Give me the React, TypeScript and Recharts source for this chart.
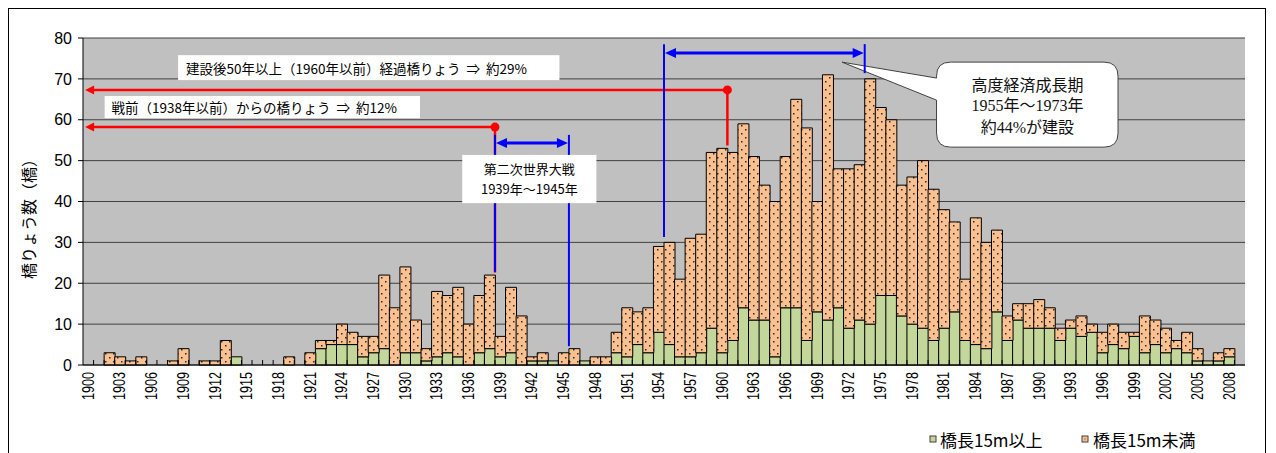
import React from "react";
import { BarChart, Bar, XAxis, YAxis, CartesianGrid } from "recharts";

// 1900年〜2009年（2009年はデータなし）
const FIRST_YEAR = 1900;
const years = Array.from({ length: 110 }, (_, i) => String(FIRST_YEAR + i));

// 橋長15m以上
const over15m = [
  0, 0, 0, 0, 0, 0, 0, 0, 0, 0,
  0, 0, 0, 0, 2, 0, 0, 0, 0, 0,
  0, 0, 4, 5, 5, 5, 2, 3, 4, 0,
  3, 3, 1, 2, 3, 2, 0, 3, 4, 2,
  3, 0, 1, 1, 1, 0, 0, 1, 0, 0,
  3, 2, 5, 3, 8, 5, 2, 2, 3, 9,
  3, 6, 14, 11, 11, 2, 14, 14, 6, 13,
  11, 14, 9, 11, 10, 17, 17, 12, 10, 9,
  6, 9, 13, 6, 5, 4, 13, 6, 11, 9,
  9, 9, 6, 9, 7, 8, 3, 5, 4, 7,
  3, 5, 3, 4, 3, 1, 1, 1, 2, 0,
];

// 橋長15m未満
const under15m = [
  0, 0, 3, 2, 1, 2, 0, 0, 1, 4,
  0, 1, 1, 6, 0, 0, 0, 0, 0, 2,
  0, 3, 2, 1, 5, 3, 5, 4, 18, 14,
  21, 8, 3, 16, 14, 17, 10, 14, 18, 5,
  16, 12, 1, 2, 0, 3, 4, 0, 2, 2,
  5, 12, 8, 11, 21, 25, 19, 29, 29, 43,
  50, 46, 45, 40, 33, 38, 37, 51, 52, 27,
  60, 34, 39, 38, 60, 46, 43, 32, 36, 41,
  37, 29, 22, 15, 31, 26, 20, 6, 4, 6,
  7, 5, 3, 2, 5, 2, 5, 5, 4, 1,
  9, 6, 6, 2, 5, 3, 0, 2, 2, 0,
];

const yTicks = [0, 10, 20, 30, 40, 50, 60, 70, 80];
const legendLabels = ["橋長15m以上", "橋長15m未満"];

const rows = years.map((year, i) => ({
  year,
  over15m: over15m[i],
  under15m: under15m[i],
}));

const W = 1260;
const H = 445;
const PL = 75;
const PT = 30;
const PW = 1162;
const PH = 327;
const Y_MAX = 80;

const GREEN = "#C4D79B";
const ORANGE = "#FAC090";
const SANS = "'Liberation Sans', Arial, 'Noto Sans CJK JP', sans-serif";
const JP = "'Noto Sans CJK JP', 'Liberation Sans', sans-serif";
const SERIF = "'Liberation Serif', 'Noto Sans CJK JP', serif";

const BW = PW / years.length;
const xb = (i: number) => PL + i * BW; // category boundary
const yv = (v: number) => PT + ((Y_MAX - v) / Y_MAX) * PH;

const XTick = (props: any) => {
  const { x, payload } = props;
  const y = PT + PH + 7;
  return (
    <text
      x={x}
      y={y}
      transform={`rotate(-90 ${x} ${y})`}
      textAnchor="end"
      dominantBaseline="central"
      fontSize={16}
      fontFamily={SANS}
      textLength={28}
      lengthAdjust="spacingAndGlyphs"
      fill="#000"
    >
      {payload.value}
    </text>
  );
};

function head(tx: number, ty: number, dir: 1 | -1, len: number, half: number, color: string) {
  // dir -1 = points left, 1 = points right
  const bx = tx - dir * len;
  return <polygon points={`${tx},${ty} ${bx},${ty - half} ${bx},${ty + half}`} fill={color} />;
}

function Overlay() {
  const red = "#FF0000";
  const blue = "#0000FF";

  // callout
  const cx0 = xb(80.8);
  const cx1 = xb(97.98);
  const cy0 = yv(74.1);
  const cy1 = yv(53.3);
  const r = 14;
  const tipX = xb(71.85);
  const tipY = yv(74.1);
  const yA = yv(70.2);
  const yB = yv(64.8);
  const calloutPath =
    `M${cx0 + r},${cy0} L${cx1 - r},${cy0} Q${cx1},${cy0} ${cx1},${cy0 + r} ` +
    `L${cx1},${cy1 - r} Q${cx1},${cy1} ${cx1 - r},${cy1} L${cx0 + r},${cy1} ` +
    `Q${cx0},${cy1} ${cx0},${cy1 - r} L${cx0},${yB} L${tipX},${tipY} L${cx0},${yA} ` +
    `L${cx0},${cy0 + r} Q${cx0},${cy0} ${cx0 + r},${cy0} Z`;

  const calloutLines = ["高度経済成長期", "1955年～1973年", "約44%が建設"];
  const calloutY = [68.3, 63.4, 58.2];

  return (
    <svg
      width={W}
      height={H}
      style={{ position: "absolute", left: 0, top: 0, pointerEvents: "none" }}
    >
      {/* category boundary ticks */}
      {years.map((y, i) =>
        i > 0 ? (
          <line key={y} x1={xb(i)} x2={xb(i)} y1={yv(0)} y2={yv(0) - 5} stroke="#000" />
        ) : null
      )}

      {/* y axis title */}
      <text
        x={20}
        y={207}
        transform="rotate(-90 20 207)"
        textAnchor="middle"
        dominantBaseline="central"
        fontSize={16}
        fontFamily={JP}
        fill="#000"
      >
        橋りょう数（橋）
      </text>

      {/* text boxes */}
      <rect x={xb(9)} y={yv(75.8)} width={xb(45.1) - xb(9)} height={yv(69.7) - yv(75.8)} fill="#fff" />
      <text x={xb(9.75)} y={yv(72.7)} dominantBaseline="central" fontSize={13.5} fontFamily={JP} fill="#000" xmlSpace="preserve">
        {"建設後50年以上（1960年以前）経過橋りょう  ⇒  約29%"}
      </text>
      <rect x={xb(2.05)} y={yv(65.8)} width={xb(31.9) - xb(2.05)} height={yv(60.4) - yv(65.8)} fill="#fff" />
      <text x={xb(2.7)} y={yv(63.1)} dominantBaseline="central" fontSize={13.5} fontFamily={JP} fill="#000" xmlSpace="preserve">
        {"戦前（1938年以前）からの橋りょう  ⇒  約12%"}
      </text>

      {/* callout */}
      <path d={calloutPath} fill="#fff" stroke="#404040" strokeWidth={1} />
      {calloutLines.map((t, i) => (
        <text
          key={t}
          x={xb(89.4)}
          y={yv(calloutY[i])}
          textAnchor="middle"
          dominantBaseline="central"
          fontSize={16}
          fontFamily={SERIF}
          fill="#111"
        >
          {t}
        </text>
      ))}

      {/* red: 1960年以前 */}
      <line x1={xb(0.9)} x2={xb(61)} y1={yv(67.3)} y2={yv(67.3)} stroke={red} strokeWidth={2.5} />
      <line x1={xb(61)} x2={xb(61)} y1={yv(67.3)} y2={yv(53.7)} stroke={red} strokeWidth={2.5} />
      {head(xb(0.2), yv(67.3), -1, 9, 4.5, red)}
      <circle cx={xb(61)} cy={yv(67.3)} r={4.5} fill={red} />

      {/* red: 1938年以前 */}
      <line x1={xb(0.9)} x2={xb(39)} y1={yv(58.2)} y2={yv(58.2)} stroke={red} strokeWidth={2.5} />
      <line x1={xb(39)} x2={xb(39)} y1={yv(58.2)} y2={yv(22.6)} stroke={red} strokeWidth={2.5} />
      {head(xb(0.2), yv(58.2), -1, 9, 4.5, red)}
      <circle cx={xb(39)} cy={yv(58.2)} r={4.5} fill={red} />

      {/* blue: 第二次世界大戦 */}
      <line x1={xb(39)} x2={xb(39)} y1={yv(56.3)} y2={yv(22.8)} stroke={blue} strokeWidth={2} />
      <line x1={xb(46)} x2={xb(46)} y1={yv(56.3)} y2={yv(4.6)} stroke={blue} strokeWidth={2} />
      <line x1={xb(39) + 8} x2={xb(46) - 8} y1={yv(54.3)} y2={yv(54.3)} stroke={blue} strokeWidth={3} />
      {head(xb(39) + 1, yv(54.3), -1, 11, 5, blue)}
      {head(xb(46) - 1, yv(54.3), 1, 11, 5, blue)}

      {/* WWII box drawn over the blue lines */}
      <rect x={xb(35.9)} y={yv(51.4)} width={xb(48.6) - xb(35.9)} height={yv(39.6) - yv(51.4)} fill="#fff" />
      <text x={xb(42.25)} y={yv(48.0)} textAnchor="middle" dominantBaseline="central" fontSize={13} fontFamily={JP} fill="#000">
        第二次世界大戦
      </text>
      <text x={xb(42.25)} y={yv(43.2)} textAnchor="middle" dominantBaseline="central" fontSize={13} fontFamily={JP} fill="#000">
        1939年～1945年
      </text>

      {/* blue: 高度経済成長期 */}
      <line x1={xb(55)} x2={xb(55)} y1={yv(78.5)} y2={yv(31.3)} stroke={blue} strokeWidth={2} />
      <line x1={xb(74)} x2={xb(74)} y1={yv(78.5)} y2={yv(71.4)} stroke={blue} strokeWidth={2} />
      <line x1={xb(55) + 8} x2={xb(74) - 8} y1={yv(76.3)} y2={yv(76.3)} stroke={blue} strokeWidth={3} />
      {head(xb(55) + 1, yv(76.3), -1, 11, 5, blue)}
      {head(xb(74) - 1, yv(76.3), 1, 11, 5, blue)}

      {/* legend */}
      <rect x={922} y={428} width={6} height={6} fill={GREEN} stroke="#404040" strokeWidth={1} />
      <text x={932} y={431.5} dominantBaseline="central" fontSize={17} fontFamily={JP} fill="#000">
        {legendLabels[0]}
      </text>
      <rect x={1074} y={428} width={6} height={6} fill={ORANGE} stroke="#404040" strokeWidth={1} />
      <rect x={1076.5} y={430.5} width={1} height={1} fill="#333" />
      <text x={1085} y={431.5} dominantBaseline="central" fontSize={17} fontFamily={JP} fill="#000">
        {legendLabels[1]}
      </text>
    </svg>
  );
}

export default function App() {
  return (
    <div style={{ position: "relative", width: W, height: H, overflow: "hidden", background: "#fff" }}>
      <svg width={0} height={0} style={{ position: "absolute" }}>
        <defs>
          <pattern id="dots" width={8} height={8} patternUnits="userSpaceOnUse">
            <rect width={8} height={8} fill={ORANGE} />
            <rect x={1} y={1} width={1.5} height={1.5} fill="#2a2a2a" />
            <rect x={5} y={5} width={1.5} height={1.5} fill="#2a2a2a" />
          </pattern>
        </defs>
      </svg>
      <BarChart
        width={W}
        height={H}
        data={rows}
        margin={{ top: PT, right: W - PL - PW, left: 15, bottom: 0 }}
        barCategoryGap={0}
        barGap={0}
      >
        <CartesianGrid vertical={false} fill="#C0C0C0" stroke="#404040" strokeOpacity={1} />
        <XAxis
          dataKey="year"
          interval={2}
          tick={<XTick />}
          tickLine={false}
          axisLine={{ stroke: "#000" }}
          height={H - PT - PH}
        />
        <YAxis
          domain={[0, Y_MAX]}
          ticks={yTicks}
          width={PL - 15}
          tickSize={5}
          tickMargin={6}
          axisLine={{ stroke: "#000" }}
          tickLine={{ stroke: "#000" }}
          tick={{ fontSize: 16, fill: "#000", fontFamily: SANS }}
        />
        <Bar dataKey="over15m" stackId="s" fill={GREEN} stroke="#000" strokeWidth={1} isAnimationActive={false} />
        <Bar dataKey="under15m" stackId="s" fill="url(#dots)" stroke="#000" strokeWidth={1} isAnimationActive={false} />
      </BarChart>
      <Overlay />
      <div
        style={{
          position: "absolute",
          left: 0,
          top: 0,
          width: 1258,
          height: 500,
          border: "1px solid #000",
          boxSizing: "border-box",
          pointerEvents: "none",
        }}
      />
    </div>
  );
}
